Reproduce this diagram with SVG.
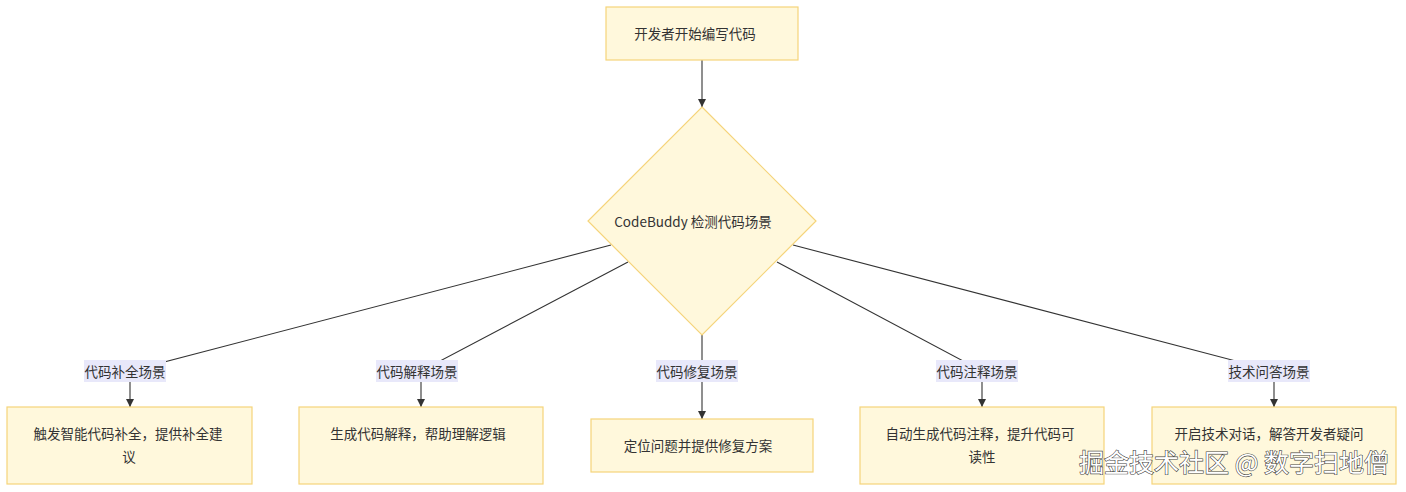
<svg xmlns="http://www.w3.org/2000/svg" width="1406" height="492" viewBox="0 0 1406 492">
<style>
.node rect,.node polygon{fill:#fff8dc;stroke:#f5d47a;stroke-width:1.2}
.t{font-family:"Noto Sans CJK SC","Noto Sans",sans-serif;font-size:13.5px;fill:#333;text-anchor:middle;dominant-baseline:central}
.edge{fill:none;stroke:#333;stroke-width:1.1}
.lbl rect{fill:#e8e8fa}
.wm{font-family:"Noto Sans CJK SC",sans-serif;font-size:25px;fill:#fff;stroke:#444;stroke-width:1.2;paint-order:stroke;text-anchor:middle;dominant-baseline:central}
</style>
<defs>
<marker id="arr" viewBox="0 0 10 10" refX="10" refY="5" markerWidth="8" markerHeight="8" markerUnits="userSpaceOnUse" orient="auto">
<path d="M0,0 L10,5 L0,10 z" fill="#333"/>
</marker>
</defs>
<rect width="1406" height="492" fill="#fff"/>
<g id="edges">
<path class="edge" d="M702,60 L702,107" marker-end="url(#arr)"/>
<path class="edge" d="M611,245 L130,371 L130,407" marker-end="url(#arr)"/>
<path class="edge" d="M628,262 L421,371 L421,407" marker-end="url(#arr)"/>
<path class="edge" d="M702,335 L702,419" marker-end="url(#arr)"/>
<path class="edge" d="M777,262 L982,371 L982,407" marker-end="url(#arr)"/>
<path class="edge" d="M793,245 L1274,371 L1274,407" marker-end="url(#arr)"/>
</g>
<g id="edge-labels" class="lbl">
<g id="l1"><rect x="84" y="360" width="82" height="22"/><text class="t" x="125" y="371">代码补全场景</text></g>
<g id="l2"><rect x="376" y="360" width="82" height="22"/><text class="t" x="417" y="371">代码解释场景</text></g>
<g id="l3"><rect x="656" y="360" width="82" height="22"/><text class="t" x="697" y="371">代码修复场景</text></g>
<g id="l4"><rect x="936" y="360" width="82" height="22"/><text class="t" x="977" y="371">代码注释场景</text></g>
<g id="l5"><rect x="1228" y="360" width="82" height="22"/><text class="t" x="1269" y="371">技术问答场景</text></g>
</g>
<g id="start" class="node"><rect x="606" y="7" width="192" height="53"/><text class="t" x="695" y="33">开发者开始编写代码</text></g>
<g id="detect" class="node"><polygon points="702,107 816,221 702,335 588,221"/><text class="t" x="693" y="221">CodeBuddy 检测代码场景</text></g>
<g id="n1" class="node"><rect x="7" y="407" width="245" height="77"/><text class="t" x="128" y="433">触发智能代码补全，提供补全建</text><text class="t" x="129" y="456">议</text></g>
<g id="n2" class="node"><rect x="299" y="407" width="244" height="77"/><text class="t" x="418" y="433">生成代码解释，帮助理解逻辑</text></g>
<g id="n3" class="node"><rect x="591" y="419" width="222" height="53"/><text class="t" x="698" y="445">定位问题并提供修复方案</text></g>
<g id="n4" class="node"><rect x="860" y="407" width="244" height="77"/><text class="t" x="980" y="433">自动生成代码注释，提升代码可</text><text class="t" x="982" y="456">读性</text></g>
<g id="n5" class="node"><rect x="1152" y="407" width="244" height="77"/><text class="t" x="1269" y="433">开启技术对话，解答开发者疑问</text></g>
<text class="wm" x="1234" y="461">掘金技术社区 @ 数字扫地僧</text>
</svg>
